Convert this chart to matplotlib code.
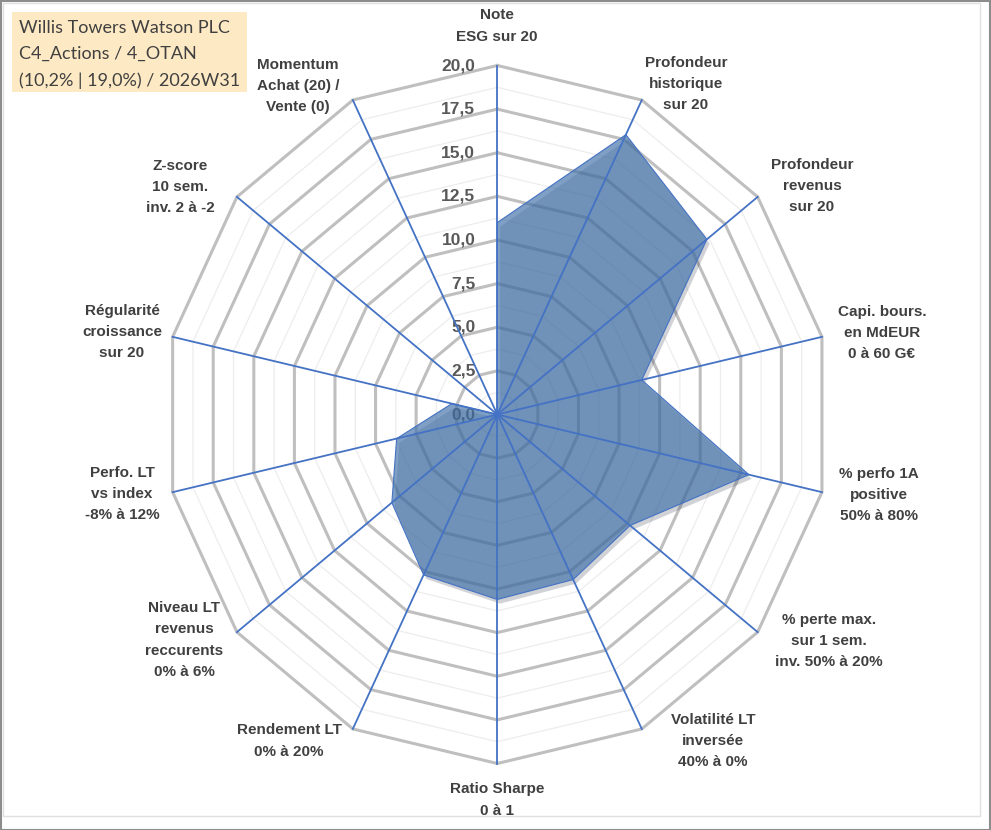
import numpy as np
import matplotlib
matplotlib.use("Agg")
import matplotlib.pyplot as plt
import matplotlib.patheffects as pe
from matplotlib.patches import Rectangle

# --- data -----------------------------------------------------------------
categories = [
    "Note\nESG sur 20",
    "Profondeur\nhistorique\nsur 20",
    "Profondeur\nrevenus\nsur 20",
    "Capi. bours.\nen MdEUR\n0 à 60 G€",
    "% perfo 1A\npositive\n50% à 80%",
    "% perte max.\nsur 1 sem.\ninv. 50% à 20%",
    "Volatilité LT\ninversée\n40% à 0%",
    "Ratio Sharpe\n0 à 1",
    "Rendement LT\n0% à 20%",
    "Niveau LT\nrevenus\nreccurents\n0% à 6%",
    "Perfo. LT\nvs index\n-8% à 12%",
    "Régularité\ncroissance\nsur 20",
    "Z-score\n10 sem.\ninv. 2 à -2",
    "Momentum\nAchat (20) /\nVente (0)",
]
values = [11.0, 17.8, 16.1, 8.9, 15.5, 10.2, 10.5, 10.6, 10.2, 8.1, 6.2, 2.8, 0.0, 0.0]
ticks = [0.0, 2.5, 5.0, 7.5, 10.0, 12.5, 15.0, 17.5, 20.0]
title_lines = ["Willis Towers Watson PLC", "C4_Actions / 4_OTAN", "(10,2% | 19,0%) / 2026W31"]

# label positions in pixels (x, y from top)
label_pos = [(497, 26), (686, 84), (812, 186), (882, 333), (879, 495), (829, 641),
             (713, 741), (497, 800), (289, 741), (184, 640), (122, 494), (122, 332),
             (180, 187), (298, 86)]

W, H = 991, 830
CX, CY = 497.3, 414.5          # centre, px from top
SX, SY = 16.65, 17.45           # px per unit

fig = plt.figure(figsize=(W / 100, H / 100), dpi=100)
ax = fig.add_axes([0, 0, 1, 1])
ax.set_xlim(-CX / SX, (W - CX) / SX)
ax.set_ylim(-(H - CY) / SY, CY / SY)
ax.axis("off")

n = len(categories)
ang = np.arange(n) * 2 * np.pi / n
sx, cy = np.sin(ang), np.cos(ang)

# grid: minor (thin) then major (thick)
for r in np.arange(1.25, 20, 2.5):
    ax.plot(np.append(r * sx, r * sx[0]), np.append(r * cy, r * cy[0]),
            color="#ededed", lw=0.9, zorder=1)
for r in ticks[1:]:
    ax.plot(np.append(r * sx, r * sx[0]), np.append(r * cy, r * cy[0]),
            color="#bfbfbf", lw=2.2, zorder=2, solid_joinstyle="miter")

# tick labels
for t in ticks:
    ax.annotate(f"{t:.1f}".replace(".", ","), xy=(0, t), xytext=(-22, 0),
                textcoords="offset pixels", ha="right", va="center",
                fontsize=12.5, fontweight="bold", color="#595959",
                family="Liberation Sans", zorder=3)

# series
v = np.array(values)
px, py = v * sx, v * cy
ax.fill(px, py, facecolor="#4372aa", alpha=0.68, zorder=4,
        path_effects=[pe.SimplePatchShadow(offset=(2, -3), alpha=0.2), pe.Normal()])
ax.plot(np.append(px, px[0]), np.append(py, py[0]), color="#4472c4", lw=0.8, zorder=5)

# spokes
for a, b in zip(sx, cy):
    ax.plot([0, 20 * a], [0, 20 * b], color="#4472c4", lw=1.3, zorder=6)

# category labels
for lab, (x, y) in zip(categories, label_pos):
    fig.text(x / W, 1 - y / H, lab, ha="center", va="center", ma="center",
             fontsize=11, fontweight="bold", color="#404040",
             family="Liberation Sans", linespacing=1.68)

# title box
fig.patches.append(Rectangle((12 / W, 1 - 92 / H), 235 / W, 80 / H,
                             transform=fig.transFigure, facecolor="#fde9c4",
                             edgecolor="none", zorder=0))
fig.text(19 / W, 1 - 54.5 / H, "\n".join(title_lines), ha="left", va="center",
         fontsize=13, color="#404040", family="Lato", linespacing=1.8)

# borders
fig.patches.append(Rectangle((3 / W, 1 - 816 / H), 977 / W, 813 / H,
                             transform=fig.transFigure, facecolor="none",
                             edgecolor="#e0e0e0", lw=1))
fig.patches.append(Rectangle((0.5 / W, 0.5 / H), 1 - 1.5 / W, 1 - 1.5 / H,
                             transform=fig.transFigure, facecolor="none",
                             edgecolor="#8c8c8c", lw=1.5))

fig.savefig("out.png", dpi=100)
